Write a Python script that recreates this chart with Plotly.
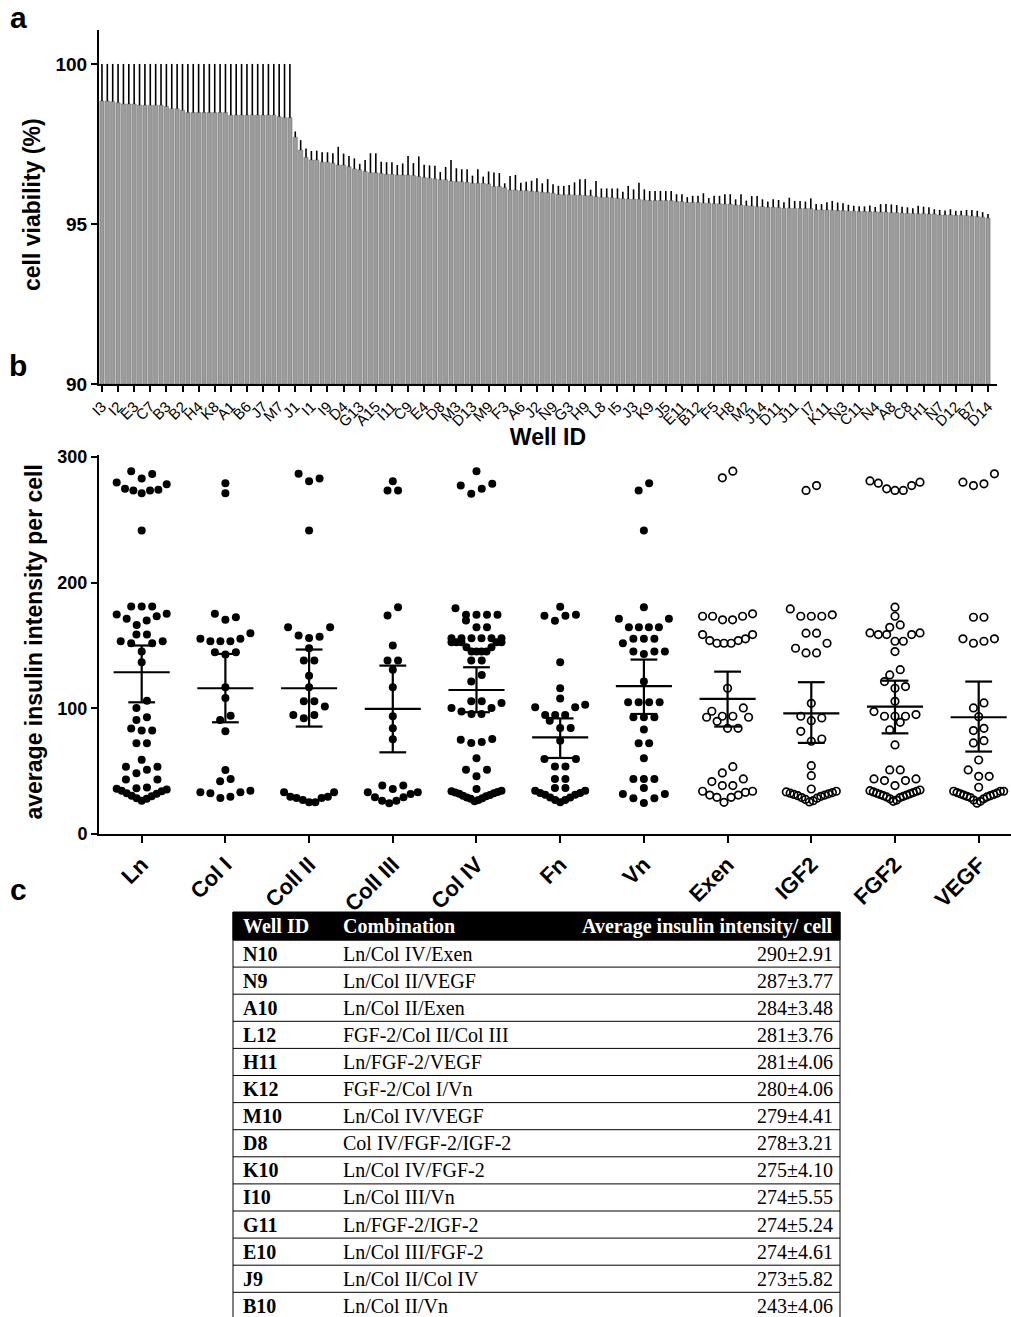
import math
import numpy as np
import plotly.graph_objects as go

W, H = 1011, 1317

# ---------------- Panel a data ----------------
well_labels = ["I3", "I2", "E3", "C7", "B3", "B2", "H4", "K8", "A1", "B6", "J7", "M7",
               "J1", "I1", "I9", "D4", "G13", "A15", "I11", "C9", "E4", "D8",
               "M3", "D13", "M9", "F3", "A6", "J2", "N9", "G3", "H9", "L8",
               "I5", "J3", "K9", "J5", "E11", "B12", "F5", "H8", "M2", "J14",
               "D11", "J11", "I7", "K11", "N3", "C11", "N4", "A8", "C8", "H1",
               "N7", "D12", "B7", "D14"]

viability = [
    98.84, 98.84, 98.82, 98.79, 98.75, 98.75, 98.75, 98.71, 98.71, 98.71,
    98.71, 98.71, 98.67, 98.60, 98.60, 98.55, 98.48, 98.48, 98.48, 98.48,
    98.48, 98.48, 98.48, 98.48, 98.40, 98.40, 98.40, 98.40, 98.40, 98.40,
    98.40, 98.40, 98.40, 98.35, 98.32, 98.32,
    97.71, 97.31, 97.08, 97.00, 97.00, 96.93, 96.93, 96.90, 96.84, 96.84,
    96.79, 96.72, 96.69, 96.64, 96.60, 96.60, 96.58, 96.55, 96.55, 96.53,
    96.53, 96.53, 96.51, 96.48, 96.45, 96.43, 96.41, 96.38, 96.38, 96.34,
    96.32, 96.32, 96.30, 96.27, 96.27, 96.27, 96.25, 96.17, 96.17, 96.13,
    96.06, 96.06, 96.04, 96.04,
    96.02, 96.01, 95.99, 95.98, 95.96, 95.92, 95.91, 95.91, 95.90, 95.90,
    95.89, 95.88, 95.85, 95.83, 95.83, 95.82, 95.80, 95.79, 95.78, 95.77,
    95.77, 95.75, 95.73, 95.73, 95.73, 95.73, 95.73, 95.70, 95.70, 95.67,
    95.67, 95.67, 95.65, 95.65, 95.63, 95.63, 95.62, 95.62, 95.59, 95.59,
    95.57, 95.56, 95.54,
    95.54, 95.52, 95.52, 95.51, 95.49, 95.49, 95.49, 95.48, 95.48, 95.48,
    95.44, 95.44, 95.44, 95.43, 95.42, 95.42, 95.40, 95.40, 95.39, 95.39,
    95.38, 95.38, 95.37, 95.37, 95.35, 95.35, 95.34, 95.33, 95.33, 95.32,
    95.32, 95.31, 95.31, 95.28, 95.28, 95.28, 95.27, 95.27, 95.26, 95.25,
    95.23, 95.21, 95.18]

viability_sd = [
    1.16, 1.16, 1.18, 1.21, 1.25, 1.25, 1.25, 1.29, 1.29, 1.29,
    1.29, 1.29, 1.33, 1.40, 1.40, 1.45, 1.52, 1.52, 1.52, 1.52,
    1.52, 1.52, 1.52, 1.52, 1.60, 1.60, 1.60, 1.60, 1.60, 1.60,
    1.60, 1.60, 1.60, 1.65, 1.68, 1.68,
    0.18, 0.31, 0.28, 0.28, 0.29, 0.31, 0.31, 0.31, 0.57, 0.36,
    0.33, 0.33, 0.19, 0.36, 0.61, 0.61, 0.36, 0.38, 0.38, 0.31,
    0.36, 0.59, 0.39, 0.63, 0.40, 0.40, 0.41, 0.24, 0.40, 0.66,
    0.42, 0.39, 0.41, 0.24, 0.44, 0.21, 0.39, 0.44, 0.42, 0.14,
    0.44, 0.47, 0.25, 0.28,
    0.33, 0.42, 0.28, 0.42, 0.28, 0.27, 0.28, 0.31, 0.40, 0.50,
    0.51, 0.19, 0.49, 0.28, 0.28, 0.29, 0.31, 0.22, 0.41, 0.31,
    0.52, 0.33, 0.30, 0.30, 0.30, 0.30, 0.30, 0.23, 0.23, 0.17,
    0.21, 0.21, 0.31, 0.16, 0.25, 0.25, 0.31, 0.31, 0.18, 0.34,
    0.16, 0.31, 0.33,
    0.23, 0.18, 0.25, 0.24, 0.19, 0.33, 0.23, 0.24, 0.22, 0.32,
    0.18, 0.18, 0.24, 0.29, 0.25, 0.23, 0.20, 0.17, 0.16, 0.16,
    0.20, 0.15, 0.25, 0.25, 0.26, 0.24, 0.20, 0.19, 0.16, 0.25,
    0.22, 0.21, 0.15, 0.16, 0.14, 0.18, 0.14, 0.14, 0.18, 0.19,
    0.18, 0.16, 0.13]

# ---------------- Panel b data ----------------
categories = ["Ln", "Col I", "Coll II", "Coll III", "Col IV", "Fn", "Vn",
              "Exen", "IGF2", "FGF2", "VEGF"]
open_marker = [False, False, False, False, False, False, False, True, True, True, True]

ln_vals = [288.7, 286.4, 282.9, 279.7, 278.4, 274.7, 273.9, 273.4, 273.4, 271.2, 241.5,
           181.0, 181.0, 181.0, 175.2, 174.6, 173.3, 171.2, 169.9, 166.4, 158.7, 158.7,
           153.4, 153.4, 151.8, 151.8, 145.2, 136.7,
           106.0, 100.3, 92.9, 90.8, 84.0, 82.3, 82.3, 72.2, 72.2, 59.0, 53.6, 53.6,
           51.2, 48.3, 43.3, 43.3,
           37.0, 36.5, 36.0, 35.5, 34.5, 34.0, 32.5, 32.0, 30.5, 30.0, 28.5, 28.0, 26.5]
col1_vals = [279.2, 271.2, 175.2, 172.5, 170.4, 159.8, 155.3, 155.3, 153.4, 153.4, 153.4,
             144.6, 144.6, 142.8,
             116.8, 108.3, 94.2, 90.8, 81.7,
             51.0, 43.8, 41.9, 34.5, 33.2, 33.2, 32.4, 29.7, 28.7]
coll2_vals = [286.6, 282.9, 280.8, 241.5, 164.5, 164.5, 157.9, 157.0, 156.0, 147.8,
              138.0, 138.0, 126.0,
              116.8, 105.6, 105.6, 101.4, 94.7, 94.7, 92.1,
              33.2, 33.2, 29.7, 29.7, 28.7, 28.7, 27.0, 25.2, 25.2]
coll3_vals = [280.8, 273.4, 273.4, 180.5, 173.8, 150.0, 138.0, 138.0,
              130.8, 116.8, 93.7, 84.1, 75.4,
              38.5, 38.5, 35.8, 33.2, 33.2, 31.8, 29.2, 29.2, 26.5, 26.5, 24.4]
col4_vals = [288.7, 278.7, 277.3, 274.7, 270.7,
             179.7, 174.4, 174.4, 174.4, 174.4, 169.9, 164.5, 164.5,
             155.8, 155.8, 155.8, 155.8, 155.8, 155.8, 152.6, 152.6, 152.6, 152.6, 152.6,
             148.6, 148.6, 145.2, 145.2, 145.2, 145.2, 138.0, 138.0,
             126.6, 121.3, 105.6, 105.6, 104.3, 100.3, 100.3, 97.4, 95.5, 95.5,
             75.6, 75.1, 73.3, 72.5,
             60.2, 51.2, 51.2, 45.9, 35.8, 34.5,
             34.0, 33.5, 33.0, 32.5, 32.0, 31.0, 30.5, 30.0, 29.0, 28.5, 28.0, 27.0, 26.0]
fn_vals = [180.9, 174.5, 173.7, 173.7, 169.7, 136.6, 115.9, 107.9, 102.9, 100.8, 100.8,
           94.7, 94.7, 94.7, 90.2, 84.3, 84.3, 74.2, 59.7, 59.7, 53.8, 53.8, 43.8, 43.8,
           36.6, 36.6, 34.5, 34.5, 32.6, 32.6, 31.3, 31.3, 29.1, 29.1, 27.0, 27.0, 25.2]
vn_vals = [279.2, 273.4, 241.5,
           180.5, 171.2, 171.2, 164.5, 164.5, 164.5, 164.5, 155.3, 155.3, 155.3, 151.8,
           145.2, 145.2, 145.2, 143.3,
           121.3, 104.8, 104.8, 104.8, 104.8, 92.9, 92.9, 92.9, 83.1, 72.2, 72.2, 60.2,
           43.8, 43.8, 43.8, 36.6, 31.8, 31.8, 28.4, 28.4, 24.7]
exen_vals = [288.7, 283.4,
             175.2, 173.3, 173.3, 173.3, 170.4, 170.4, 158.7, 158.7, 155.3, 153.9, 153.9,
             151.8, 151.8, 151.8,
             116.0, 100.3, 97.7, 93.7, 93.7, 92.9, 92.9, 89.7, 84.1, 84.1,
             53.6, 48.6, 43.8, 41.7, 38.5, 38.5, 34.0, 34.0, 33.2, 31.0, 31.0, 29.2, 29.2, 25.2]
igf2_vals = [277.3, 273.4,
             179.1, 174.4, 173.3, 173.3, 173.3, 159.8, 159.8, 151.8, 147.8, 144.1, 144.1,
             104.0, 93.7, 92.4, 90.2, 81.7, 75.6, 73.8,
             54.4, 46.4, 35.8,
             34.0, 33.5, 33.0, 32.5, 32.0, 31.5, 31.0, 30.5, 30.0, 29.0, 28.5, 27.5, 26.5, 25.5]
fgf2_vals = [281.0, 280.0, 279.2, 277.3, 274.7, 273.4, 273.4,
             180.5, 173.3, 166.4, 164.5, 160.0, 160.0, 158.7, 158.7, 158.7, 153.4, 153.4, 145.2,
             130.8, 126.6, 121.3, 117.3, 116.0, 105.6, 97.4, 95.0, 93.7, 93.7, 93.7, 88.9,
             82.8, 70.9,
             51.0, 51.0, 43.8, 43.8, 42.5, 42.5, 38.5,
             35.0, 34.5, 34.0, 33.5, 33.0, 32.5, 32.0, 31.5, 31.0, 30.5, 30.0, 29.5, 29.0,
             28.0, 27.0, 26.0]
vegf_vals = [286.6, 280.0, 278.7, 277.3,
             172.5, 172.5, 155.3, 155.3, 153.4, 151.8,
             104.3, 100.3, 93.4, 84.1, 82.3, 74.3, 72.5, 58.9,
             51.0, 45.9, 45.9, 37.2, 34.0, 34.0, 34.0,
             33.0, 32.5, 32.0, 31.5, 31.0, 30.5, 30.0, 29.5, 29.0, 28.0, 27.0, 26.0, 24.5]

group_means = [128.7, 116.0, 116.0, 99.5, 114.6, 76.9, 117.6, 107.5, 96.0, 101.4, 92.9]
group_upper = [150.0, 143.3, 146.8, 134.0, 132.7, 92.0, 138.8, 129.2, 120.8, 122.0, 121.3]
group_lower = [104.8, 88.9, 85.5, 65.0, 96.9, 60.5, 95.5, 85.5, 72.5, 80.1, 65.6]

# ---------------- Panel c data ----------------
table_header = ["Well ID", "Combination", "Average insulin intensity/ cell"]
table_wells = ["N10", "N9", "A10", "L12", "H11", "K12", "M10", "D8", "K10", "I10",
               "G11", "E10", "J9", "B10"]
table_combos = ["Ln/Col IV/Exen", "Ln/Col II/VEGF", "Ln/Col II/Exen", "FGF-2/Col II/Col III",
                "Ln/FGF-2/VEGF", "FGF-2/Col I/Vn", "Ln/Col IV/VEGF", "Col IV/FGF-2/IGF-2",
                "Ln/Col IV/FGF-2", "Ln/Col III/Vn", "Ln/FGF-2/IGF-2", "Ln/Col III/FGF-2",
                "Ln/Col II/Col IV", "Ln/Col II/Vn"]
table_values = ["290±2.91", "287±3.77", "284±3.48", "281±3.76", "281±4.06", "280±4.06",
                "279±4.41", "278±3.21", "275±4.10", "274±5.55", "274±5.24", "274±4.61",
                "273±5.82", "243±4.06"]

# ---------------- helpers ----------------
def px_x(x):
    return x / W

def px_y(y):
    return 1 - y / H

SANS = "Liberation Sans, Arial, sans-serif"
SERIF = "Liberation Serif, Times New Roman, serif"

# plot geometry (pixels)
A_LEFT, A_RIGHT, A_TOP, A_BOT = 99, 997, 30, 384
B_LEFT, B_RIGHT, B_TOP, B_BOT = 99, 1011, 455, 834
B_YMAX = 301.6
B_PX_PER_Y = (B_BOT - B_TOP) / B_YMAX
B_XMIN, B_XMAX = -0.51, 10.386
B_PX_PER_X = (B_RIGHT - B_LEFT) / (B_XMAX - B_XMIN)


def row_scatter_offsets(vals, gap_px=8.5, span_px=12.0, spacing=10.5, max_width=50.0):
    """Prism-like column scatter: group close values into rows, spread each row
    horizontally with the lowest value at the centre (gives the V shapes)."""
    ys = np.asarray(vals, dtype=float) * B_PX_PER_Y
    order = list(np.argsort(ys, kind="stable"))
    xs = np.zeros(len(ys))
    rows, cur = [], []
    for idx in order:
        if cur and (ys[idx] - ys[cur[-1]] > gap_px or ys[idx] - ys[cur[0]] > span_px):
            rows.append(cur)
            cur = []
        cur.append(idx)
    if cur:
        rows.append(cur)
    for row in rows:
        n = len(row)
        s = spacing if n <= 1 else min(spacing, max_width / (n - 1))
        if n % 2 == 1:
            slots = [0.0]
            for k in range(1, n // 2 + 1):
                slots += [k * s, -k * s]
        else:
            slots = []
            for k in range(n // 2):
                slots += [-(k + 0.5) * s, (k + 0.5) * s]
        for idx, sl in zip(row, slots):
            xs[idx] = sl
    return xs / B_PX_PER_X


fig = go.Figure()

# ---------------- Panel a: bars ----------------
n_bars = len(viability)
bar_x = list(range(n_bars))
fig.add_trace(go.Bar(
    x=bar_x, y=[v - 90 for v in viability], base=90,
    width=0.78,
    marker=dict(color="#9c9c9c", line=dict(color="#5e5e5e", width=0.5)),
    error_y=dict(type="data", symmetric=False, array=viability_sd,
                 arrayminus=[0] * n_bars, color="black", thickness=1.6, width=0),
    xaxis="x", yaxis="y", hoverinfo="skip", showlegend=False,
))

# ---------------- Panel b: column scatters ----------------
all_vals = [ln_vals, col1_vals, coll2_vals, coll3_vals, col4_vals, fn_vals, vn_vals,
            exen_vals, igf2_vals, fgf2_vals, vegf_vals]
for i, vals in enumerate(all_vals):
    offs = row_scatter_offsets(vals)
    xs = [i + o for o in offs]
    if open_marker[i]:
        marker = dict(symbol="circle-open", size=7.5, color="black", line=dict(width=1.7, color="black"))
    else:
        marker = dict(symbol="circle", size=8, color="black", line=dict(width=0))
    fig.add_trace(go.Scatter(x=xs, y=vals, mode="markers", marker=marker,
                             xaxis="x2", yaxis="y2", hoverinfo="skip", showlegend=False))

# mean and error bars
MEAN_HW = 0.335
CAP_HW = 0.16
lx, ly = [], []
for i in range(len(categories)):
    m, hi, lo = group_means[i], group_upper[i], group_lower[i]
    lx += [i - MEAN_HW, i + MEAN_HW, None, i, i, None,
           i - CAP_HW, i + CAP_HW, None, i - CAP_HW, i + CAP_HW, None]
    ly += [m, m, None, lo, hi, None, hi, hi, None, lo, lo, None]
fig.add_trace(go.Scatter(x=lx, y=ly, mode="lines", line=dict(color="black", width=2.2),
                         xaxis="x2", yaxis="y2", hoverinfo="skip", showlegend=False))

# ---------------- axes ----------------
a_range_x = [-0.55, -0.55 + (A_RIGHT - A_LEFT) / 5.37]
fig.update_layout(
    width=W, height=H, margin=dict(l=0, r=0, t=0, b=0, pad=0, autoexpand=False),
    paper_bgcolor="white", plot_bgcolor="white", showlegend=False,
    xaxis=dict(domain=[px_x(A_LEFT), px_x(A_RIGHT)], anchor="y", range=a_range_x,
               automargin=False,
               tickmode="array", tickvals=list(range(0, 3 * len(well_labels), 3)),
               ticktext=well_labels, tickangle=-45,
               tickfont=dict(family=SANS, size=15, color="black"),
               ticks="outside", ticklen=6, tickwidth=1.5, tickcolor="black",
               showline=True, linewidth=2, linecolor="black", showgrid=False, zeroline=False,
               title=dict(text="Well ID", font=dict(family=SANS, size=23, color="black", weight="bold"),
                          standoff=0)),
    yaxis=dict(domain=[px_y(A_BOT), px_y(A_TOP)], anchor="x", range=[90, 101.06],
               automargin=False,
               tickmode="array", tickvals=[90, 95, 100],
               tickfont=dict(family=SANS, size=19, color="black", weight="bold"),
               ticks="outside", ticklen=6, tickwidth=2, tickcolor="black",
               showline=True, linewidth=2, linecolor="black", showgrid=False, zeroline=False),
    xaxis2=dict(domain=[px_x(B_LEFT), px_x(B_RIGHT)], anchor="y2", range=[B_XMIN, B_XMAX],
                automargin=False,
                tickmode="array", tickvals=list(range(len(categories))), ticktext=categories,
                tickangle=-45, tickfont=dict(family=SANS, size=22, color="black", weight="bold"),
                ticks="outside", ticklen=7, tickwidth=2, tickcolor="black",
                showline=True, linewidth=2, linecolor="black", showgrid=False, zeroline=False),
    yaxis2=dict(domain=[px_y(B_BOT), px_y(B_TOP)], anchor="x2", range=[0, B_YMAX],
                automargin=False,
                tickmode="array", tickvals=[0, 100, 200, 300],
                tickfont=dict(family=SANS, size=18, color="black", weight="bold"),
                ticks="outside", ticklen=6, tickwidth=2, tickcolor="black",
                showline=True, linewidth=2, linecolor="black", showgrid=False, zeroline=False),
)

annotations = []
shapes = []
# y-axis titles (placed precisely as rotated text)
annotations.append(dict(text="cell viability (%)", x=px_x(32), y=px_y((A_TOP + A_BOT) / 2 - 2),
                        xref="paper", yref="paper", showarrow=False, textangle=-90,
                        xanchor="center", yanchor="middle",
                        font=dict(family=SANS, size=23, color="black", weight="bold")))
annotations.append(dict(text="average insulin intensity per cell", x=px_x(33),
                        y=px_y((B_TOP + B_BOT) / 2 - 2),
                        xref="paper", yref="paper", showarrow=False, textangle=-90,
                        xanchor="center", yanchor="middle",
                        font=dict(family=SANS, size=23, color="black", weight="bold")))
# panel letters
for letter, (lx_, ly_) in zip(["a", "b", "c"], [(18, 18), (18, 366), (18, 890)]):
    annotations.append(dict(text=letter, x=px_x(lx_), y=px_y(ly_), xref="paper", yref="paper",
                            showarrow=False, xanchor="center", yanchor="middle",
                            font=dict(family=SANS, size=30, color="black", weight="bold")))

# ---------------- Panel c: table ----------------
T_LEFT, T_RIGHT = 233, 840
T_HEAD_TOP, T_HEAD_BOT = 912, 940
ROW_H = 27.1
shapes.append(dict(type="rect", xref="paper", yref="paper",
                   x0=px_x(T_LEFT), x1=px_x(T_RIGHT), y0=px_y(T_HEAD_BOT), y1=px_y(T_HEAD_TOP),
                   fillcolor="black", line=dict(color="black", width=1)))
n_rows = len(table_wells)
bottom = T_HEAD_BOT + ROW_H * n_rows
for k in range(n_rows + 1):
    yy = T_HEAD_BOT + ROW_H * k
    shapes.append(dict(type="line", xref="paper", yref="paper",
                       x0=px_x(T_LEFT), x1=px_x(T_RIGHT), y0=px_y(yy), y1=px_y(yy),
                       line=dict(color="black", width=1)))
for xx in (T_LEFT, T_RIGHT):
    shapes.append(dict(type="line", xref="paper", yref="paper",
                       x0=px_x(xx), x1=px_x(xx), y0=px_y(T_HEAD_TOP), y1=px_y(bottom),
                       line=dict(color="black", width=1)))

head_y = (T_HEAD_TOP + T_HEAD_BOT) / 2
col_x = [241, 341, 835]
anchors = ["left", "left", "right"]
for j, txt in enumerate(table_header):
    annotations.append(dict(text=txt, x=px_x(col_x[j]), y=px_y(head_y), xref="paper", yref="paper",
                            showarrow=False, xanchor=anchors[j], yanchor="middle",
                            font=dict(family=SERIF, size=20, color="white", weight="bold")))
for r in range(n_rows):
    cy = T_HEAD_BOT + ROW_H * (r + 0.5)
    cells = [table_wells[r], table_combos[r], table_values[r]]
    for j, txt in enumerate(cells):
        annotations.append(dict(text=txt, x=px_x(col_x[j]), y=px_y(cy), xref="paper", yref="paper",
                                showarrow=False, xanchor=anchors[j], yanchor="middle",
                                font=dict(family=SERIF, size=20, color="black",
                                          weight="bold" if j == 0 else "normal")))

fig.update_layout(annotations=annotations, shapes=shapes)
fig.write_html("out.html")
